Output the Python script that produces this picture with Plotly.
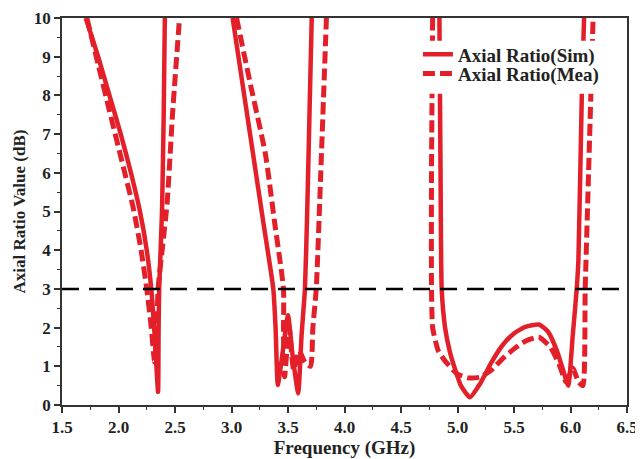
import plotly.graph_objects as go

# ---- data ----
sim_freq = [1.71, 1.82, 1.92, 2.02, 2.11, 2.19, 2.25, 2.29, 2.32, 2.35, 2.355, 2.36, 2.385, 2.40, 2.41,
            None,
            3.01, 3.10, 3.19, 3.28, 3.37, 3.39, 3.41, 3.45, 3.50, 3.54, 3.59, 3.62, 3.65, 3.67, 3.69, 3.71,
            None,
            4.84, 4.85, 4.86, 4.89, 4.93, 4.97, 5.03, 5.11, 5.20, 5.30, 5.40, 5.50, 5.60, 5.72, 5.80, 5.88,
            5.94, 5.98, 6.02, 6.055, 6.07, 6.10, 6.12]
sim_ar = [10.0, 9.0, 8.0, 7.0, 6.0, 5.0, 4.0, 3.0, 1.8, 0.34, 2.0, 3.0, 5.0, 7.5, 10.0,
          None,
          10.0, 8.25, 6.5, 4.75, 3.0, 2.0, 0.52, 1.3, 2.32, 1.3, 0.30, 1.8, 3.0, 5.0, 7.5, 10.0,
          None,
          10.0, 6.0, 3.0, 2.0, 1.4, 1.0, 0.5, 0.2, 0.55, 1.1, 1.55, 1.85, 2.02, 2.08, 1.9, 1.4,
          0.85, 0.5, 1.8, 3.0, 3.74, 8.0, 10.0]

mea_freq = [1.72, 1.82, 1.92, 2.03, 2.13, 2.20, 2.25, 2.29, 2.32, 2.34, 2.35, 2.39, 2.43, 2.48, 2.54,
            None,
            3.045, 3.17, 3.30, 3.38, 3.46, 3.46, 3.47, 3.51, 3.55, 3.60, 3.65, 3.70, 3.72, 3.75, 3.79, 3.84,
            None,
            4.78, 4.77, 4.77, 4.78, 4.83, 4.90, 5.00, 5.10, 5.20, 5.30, 5.40, 5.50, 5.60, 5.72, 5.82, 5.90,
            5.96, 6.02, 6.07, 6.11, 6.13, 6.16, 6.20]
mea_ar = [10.0, 8.8, 7.6, 6.3, 5.1, 4.0, 3.0, 2.0, 1.1, 2.0, 3.0, 4.1, 5.2, 7.6, 10.0,
          None,
          10.0, 8.25, 6.49, 4.75, 3.0, 1.8, 0.73, 2.0, 0.9, 1.4, 1.1, 1.0, 2.0, 3.0, 6.0, 10.0,
          None,
          10.0, 6.0, 3.0, 2.0, 1.4, 1.1, 0.8, 0.7, 0.72, 0.9, 1.2, 1.45, 1.65, 1.75, 1.5, 1.05,
          0.6, 0.95, 0.6, 0.5, 3.0, 6.0, 10.0]

threshold_db = 3
x_ticks = [1.5, 2.0, 2.5, 3.0, 3.5, 4.0, 4.5, 5.0, 5.5, 6.0, 6.5]
y_ticks = [0, 1, 2, 3, 4, 5, 6, 7, 8, 9, 10]

RED = "#e3202a"
FONT = "Liberation Serif, Times New Roman, serif"
INK = "#222222"

fig = go.Figure()
fig.add_trace(go.Scatter(x=sim_freq, y=sim_ar, mode="lines", name="Axial Ratio(Sim)", legend="legend",
                         line=dict(color=RED, width=4.5, shape="spline", smoothing=0.5), connectgaps=False))
fig.add_trace(go.Scatter(x=mea_freq, y=mea_ar, mode="lines", name="Axial Ratio(Mea)", legend="legend2",
                         line=dict(color=RED, width=5, dash="12px,5px", shape="spline", smoothing=0.5),
                         connectgaps=False))
fig.add_hline(y=threshold_db, line=dict(color="black", width=2.5, dash="17px,10px"))

# white backing box behind the legend entries (covers the curves there, as in the reference)
fig.add_shape(type="rect", xref="paper", yref="paper", x0=0.598, x1=0.988, y0=0.804, y1=0.941,
              fillcolor="white", line=dict(width=0), layer="above")

axis_common = dict(
    showline=True, linecolor="#333333", linewidth=1.5, mirror=True,
    ticks="outside", ticklen=6, tickwidth=1.5, tickcolor="#333333",
    showgrid=False, zeroline=False, automargin=False, ticklabeloverflow="allow",
    tickfont=dict(family=FONT, size=17, color=INK, weight="bold"),
)

fig.update_xaxes(range=[1.5, 6.5], tickvals=x_ticks, ticktext=[f"{v:.1f}" for v in x_ticks],
                 minor=dict(dtick=0.25, ticks="outside", ticklen=3, tickcolor="#333333", tickwidth=1),
                 title=dict(text="Frequency (GHz)", font=dict(family=FONT, size=19, color=INK, weight="bold"),
                            standoff=2),
                 **axis_common)
fig.update_yaxes(range=[0, 10], tickvals=y_ticks, ticktext=[str(v) for v in y_ticks],
                 minor=dict(dtick=0.5, ticks="outside", ticklen=3, tickcolor="#333333", tickwidth=1),
                 title=dict(text="Axial Ratio Value (dB)", font=dict(family=FONT, size=17, color=INK, weight="bold"),
                            standoff=4),
                 **axis_common)

legend_font = dict(family=FONT, size=19, color=INK, weight="bold")
fig.update_layout(
    width=635, height=451,
    margin=dict(l=54, r=16, t=10, b=54),
    paper_bgcolor="white", plot_bgcolor="white",
    showlegend=True,
    legend=dict(x=0.63, y=0.955, xanchor="left", yanchor="top", bgcolor="rgba(0,0,0,0)",
                borderwidth=0, font=legend_font, itemwidth=30),
    legend2=dict(x=0.63, y=0.905, xanchor="left", yanchor="top", bgcolor="rgba(0,0,0,0)",
                 borderwidth=0, font=legend_font, itemwidth=30),
)

fig.write_html("out.html")
